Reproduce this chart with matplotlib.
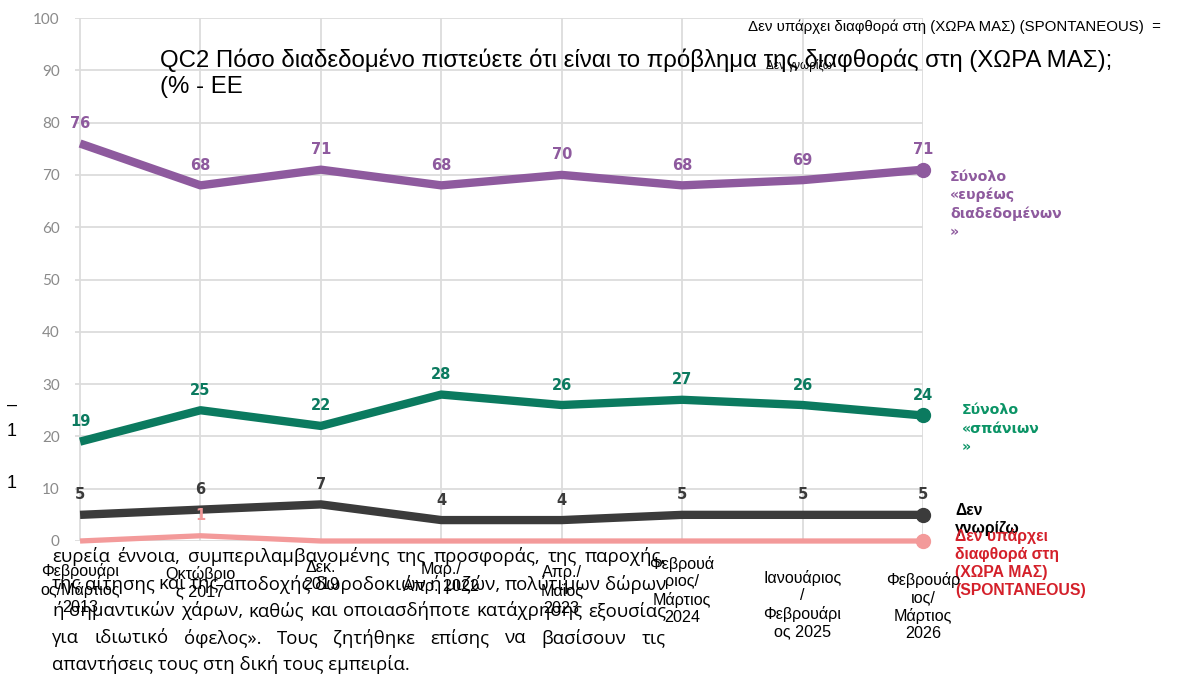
import matplotlib
matplotlib.use('Agg')
import matplotlib.pyplot as plt
import matplotlib.transforms as mtransforms
import numpy as np

periods = ['Φεβρουάρι\nος/Μάρτιος\n2013', 'Οκτώβριο\nς 2017', 'Δεκ.\n2019',
           'Μαρ./\nΑπρ. 2022', 'Απρ./\nΜαΐος\n2023', 'Φεβρουά\nριος/\nΜάρτιος\n2024',
           'Ιανουάριος\n/\nΦεβρουάρι\nος 2025', 'Φεβρουάρ\nιος/\nΜάρτιος\n2026']
widespread = [76, 68, 71, 68, 70, 68, 69, 71]
rare = [19, 25, 22, 28, 26, 27, 26, 24]
dont_know = [5, 6, 7, 4, 4, 5, 5, 5]
no_corruption = [0, 1, 0, 0, 0, 0, 0, 0]

series_names = ['Σύνολο\n«ευρέως\nδιαδεδομένων\n»', 'Σύνολο\n«σπάνιων\n»',
                'Δεν\nγνωρίζω', 'Δεν υπάρχει\nδιαφθορά στη\n(ΧΩΡΑ ΜΑΣ)\n(SPONTANEOUS)']

title = 'QC2 Πόσο διαδεδομένο πιστεύετε ότι είναι το πρόβλημα της διαφθοράς στη (ΧΩΡΑ ΜΑΣ);\n(% - ΕΕ'
para = ['ευρεία έννοια, συμπεριλαμβανομένης της προσφοράς, της παροχής,',
        'της αίτησης και της αποδοχής δωροδοκιών ή μιζών, πολύτιμων δώρων',
        'ή σημαντικών χάρων, καθώς και οποιασδήποτε κατάχρησης εξουσίας',
        'για ιδιωτικό όφελος». Τους ζητήθηκε επίσης να βασίσουν τις',
        'απαντήσεις τους στη δική τους εμπειρία.']

W, H = 1190, 675
fig = plt.figure(figsize=(W/100, H/100), dpi=100)
ax = fig.add_axes([75/W, 1-541/H, (923-75)/W, (541-18)/H])

x = np.arange(len(periods))
ax.set_xlim(-0.042, 7)
ax.set_ylim(0, 100)
ax.set_yticks(range(0, 101, 10))
ax.set_xticks(x)
ax.set_xticklabels([])
ax.tick_params(length=0, labelsize=11, labelcolor='#8a8a8a', pad=11)
for lab in ax.get_yticklabels():
    lab.set_family('Lato')
ax.grid(True, color='#dcdcdc', lw=1.3)
ax.set_axisbelow(True)
for s in ax.spines.values():
    s.set_visible(False)

series = [
    (widespread, '#8e5a9e', '#8e5a9e', 6, (27, 0), 'DejaVu Sans', 10.2, 1.37),
    (rare, '#0b7a5f', '#0b9466', 6, (39, 12), 'DejaVu Sans', 10.2, 1.37),
    (dont_know, '#3b3b3b', '#000000', 6, (32, 12), 'Liberation Sans', 11.3, 1.25),
    (no_corruption, '#f39a9a', '#d4202a', 3.8, (32, 12), 'Liberation Sans', 11.3, 1.25),
]
for (vals, col, namecol, lw, off, fam, fs, ls), name in zip(series, series_names):
    ax.plot(x, vals, color=col, lw=lw, solid_capstyle='butt', clip_on=False, zorder=3)
    ax.plot(x[-1], vals[-1], 'o', color=col, ms=10, clip_on=False, zorder=4)
    for xi, v in zip(x, vals):
        if v == 0:
            continue
        ax.annotate(str(v), (xi, v), xytext=(0, 20), textcoords='offset pixels',
                    ha='center', va='center', color=col, fontsize=10.5,
                    fontweight='bold', family='DejaVu Sans')
    ax.annotate(name, (x[-1], vals[-1]), xytext=off, textcoords='offset pixels',
                ha='left', va='top', color=namecol, fontsize=fs, fontweight='bold',
                family=fam, linespacing=ls, annotation_clip=False)

# category labels under the axis
tops = [563, 566, 560, 562, 565, 556, 570, 572]
tr = mtransforms.blended_transform_factory(ax.transData, fig.transFigure)
for xi, lab, t in zip(x, periods, tops):
    ax.text(xi, 1-t/H, lab, transform=tr, ha='center', va='top', fontsize=11.6,
            family='Liberation Sans', linespacing=1.2, multialignment='center')

fig.text(160/W, 1-48/H, title, ha='left', va='top', fontsize=17.3,
         family='Liberation Sans', linespacing=1.28)
fig.text(748/W, 1-27/H, 'Δεν υπάρχει διαφθορά στη (ΧΩΡΑ ΜΑΣ) (SPONTANEOUS)  =',
         ha='left', va='center', fontsize=10.8, family='Liberation Sans')
fig.text(766/W, 1-66/H, 'Δεν γνωρίζω', ha='left', va='center', fontsize=8.5,
         family='Liberation Sans')
fig.text(12/W, 1-405/H, '–', ha='center', va='center', fontsize=13, family='Liberation Sans')
fig.text(12/W, 1-432/H, '1', ha='center', va='center', fontsize=13, family='Liberation Sans')
fig.text(12/W, 1-483/H, '1', ha='center', va='center', fontsize=13, family='Liberation Sans')

# justified paragraph
fig.canvas.draw()
r = fig.canvas.get_renderer()
x0, x1 = 52, 666
for i, line in enumerate(para):
    y = 1 - (557 + 27*i)/H
    if i == len(para) - 1:
        fig.text(x0/W, y, line, ha='left', va='center', fontsize=13.4, family='Open Sans')
        continue
    words = line.split(' ')
    ts = [fig.text(0, y, w, ha='left', va='center', fontsize=13.4, family='Open Sans') for w in words]
    ws = [t.get_window_extent(r).width for t in ts]
    gap = (x1 - x0 - sum(ws)) / (len(words) - 1)
    px = x0
    for t, w in zip(ts, ws):
        t.set_x(px/W)
        px += w + gap

fig.savefig('out.png', dpi=100)
